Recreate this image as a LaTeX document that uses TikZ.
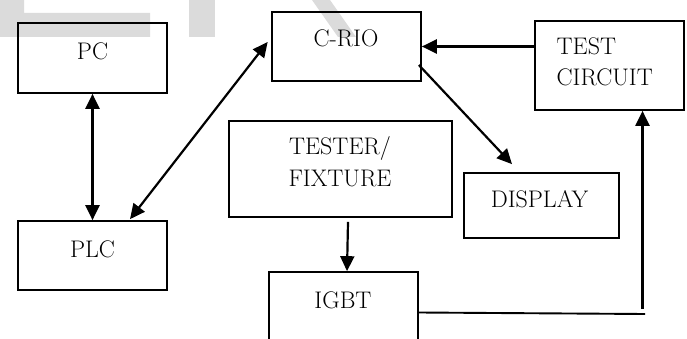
\documentclass[tikz,border=0pt]{standalone}
\usetikzlibrary{arrows.meta}
\begin{document}
\begin{tikzpicture}[x=1pt,y=-1pt,
  >={Triangle[length=15pt,width=14pt]},
  box/.style={draw,line width=1.7pt,inner sep=0pt,rectangle},
  lbl/.style={font=\fontsize{24}{31.5}\selectfont,inner sep=0pt,anchor=base},
  arr/.style={line width=2.2pt,->},
  dbl/.style={line width=2.2pt,<->},
  wire/.style={line width=1.9pt},
  shade/.style={fill=black!14,draw=none}]
\useasboundingbox (0,0) rectangle (687,339);
\clip (0,0) rectangle (687,339);

% faint background lettering
\fill[shade] (0,0) -- (24,0) -- (24,13) -- (150,13) -- (150,37) -- (0,37) -- cycle;
\fill[shade] (189,0) rectangle (215,37);
\fill[shade] (312,0) -- (330,0) -- (356,37) -- (338,37) -- cycle;

% blocks
\node[box,minimum width=149pt,minimum height=70pt] (pc) at (92.5,58) {};
\node[box,minimum width=149pt,minimum height=69pt] (plc) at (92.5,255.5) {};
\node[box,minimum width=149pt,minimum height=69pt] (crio) at (346.5,46.5) {};
\node[box,minimum width=149pt,minimum height=89pt] (test) at (609.5,65.5) {};
\node[box,minimum width=223pt,minimum height=96pt] (tester) at (340.5,169) {};
\node[box,minimum width=155pt,minimum height=65pt] (display) at (541.5,205.5) {};
\node[box,minimum width=149pt,minimum height=80pt] (igbt) at (343.5,312) {};

% labels
\node[lbl] (pct) at (92.5,60) {PC};
\node[lbl] (plct) at (92.5,257) {PLC};
\node[lbl] (criot) at (346,46.7) {C-RIO};
\node[lbl,anchor=base west] (testt1) at (556.5,54.3) {TEST};
\node[lbl,anchor=base west] (testt2) at (556.5,86) {CIRCUIT};
\node[lbl] (testert1) at (340,155) {TESTER/};
\node[lbl] (testert2) at (340,186) {FIXTURE};
\node[lbl] (displayt) at (539.5,207.7) {DISPLAY};
\node[lbl] (igbtt) at (343,308.3) {IGBT};

% connections
\draw[dbl] (pc.south) -- (plc.north);
\draw[dbl] ([xshift=37.5pt,yshift=1pt]plc.north) -- ([xshift=-3.5pt,yshift=4.5pt]crio.west);
\draw[arr] (crio.east -| test.west) -- (crio.east);
\draw[arr] ([xshift=-3pt,yshift=-18.5pt]crio.east) -- ([xshift=-29.5pt,yshift=8pt]display.north);
\draw[arr] ([xshift=7.5pt,yshift=-4pt]tester.south) -- ([xshift=3.5pt]igbt.north);
\coordinate (wend) at (645,314);
\coordinate (wup) at (642.5,309);
\draw[wire] ([yshift=-0.5pt]igbt.east) -- (wend);
\draw[arr] (wup) -- (test.south -| wup);
\end{tikzpicture}
\end{document}
